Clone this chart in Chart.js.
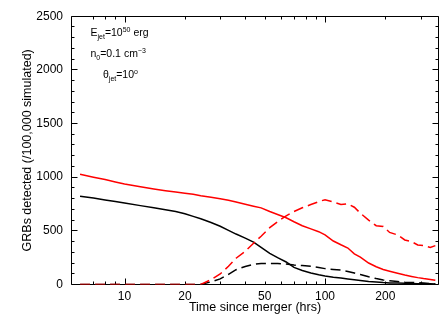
<!DOCTYPE html>
<html>
<head>
<meta charset="utf-8">
<script src="https://cdn.jsdelivr.net/npm/chart.js@4.4.1/dist/chart.umd.min.js"></script>
<style>
  body { margin: 0; background: #fff; }
  #wrap { width: 442px; height: 315px; }
</style>
</head>
<body>
<div id="wrap"><canvas id="chart" width="442" height="315"></canvas></div>
<script>
// hours since merger (shared x for all four curves)
const hours = [6, 7, 8, 9, 10, 12, 14, 16, 18, 20, 22, 24, 27, 30, 33, 36, 40, 44, 48, 53,
    58, 64, 70, 77, 85, 93, 100, 110, 120, 130, 140, 150, 165, 180, 195, 210, 230, 250,
    270, 290, 310, 335, 355];

const redSolid = [1028, 1000, 978, 956, 937, 910, 890, 874, 862, 850, 840, 828, 814, 800,
    785, 768, 748, 730, 714, 680, 652, 622, 585, 548, 518, 492, 462, 405, 370, 340, 285,
    255, 200, 165, 140, 124, 105, 88, 75, 64, 55, 47, 40];

const redDashed = [0, 0, 0, 0, 0, 0, 0, 0, 0, 0, 0, 0, 45, 98, 170, 245, 310, 385, 450, 530,
    585, 640, 680, 715, 745, 772, 790, 770, 745, 752, 720, 665, 600, 548, 540, 485, 462,
    415, 400, 368, 362, 345, 362];

const blackSolid = [822, 805, 788, 773, 760, 735, 715, 697, 680, 660, 635, 612, 578, 543,
    505, 470, 432, 395, 345, 290, 250, 210, 160, 130, 108, 90, 79, 68, 60, 52, 45, 38, 28,
    23, 18, 15, 13, 11, 10, 8, 7, 6, 5];

const blackDashed = [0, 0, 0, 0, 0, 0, 0, 0, 0, 0, 0, 0, 25, 52, 95, 138, 168, 188, 195, 196,
    196, 190, 181, 177, 170, 158, 148, 140, 134, 122, 107, 93, 72, 55, 42, 35, 28, 22, 19,
    17, 14, 8, 5];

const xTickLabels = [10, 20, 50, 100, 200];
const xMinorTicks = [7, 8, 9, 10, 20, 30, 40, 50, 60, 70, 80, 90, 100, 200, 300];
const xMajorTicks = [10, 100];
const yMax = 2500;

const toPoints = vals => hours.map((h, i) => ({ x: h, y: vals[i] }));

const FONT = "'Liberation Sans', Arial, sans-serif";
Chart.defaults.font.family = FONT;
Chart.defaults.color = '#000';

// box with inward ticks on all four sides, drawn under the curves
const frame = {
    id: 'frame',
    beforeDatasetsDraw(chart) {
        const { ctx, chartArea: a, scales: { x, y } } = chart;
        const L = Math.round(a.left) - 0.5, R = Math.round(a.right) + 0.5;
        const T = Math.floor(a.top) + 0.5, B = Math.floor(a.bottom) + 0.5;
        ctx.save();
        ctx.strokeStyle = '#000';
        ctx.lineWidth = 1;
        ctx.setLineDash([]);
        ctx.beginPath();
        ctx.rect(L, T, R - L, B - T);
        for (let v = 0; v <= yMax; v += 100) {
            const py = Math.floor(y.getPixelForValue(v)) + 0.5;
            const len = v % 500 === 0 ? 6 : 3;
            ctx.moveTo(L, py); ctx.lineTo(L + len, py);
            ctx.moveTo(R, py); ctx.lineTo(R - len, py);
        }
        xMinorTicks.forEach(v => {
            const px = Math.round(x.getPixelForValue(v)) + 0.5;
            const len = xMajorTicks.includes(v) ? 6 : 3;
            ctx.moveTo(px, B); ctx.lineTo(px, B - len);
            ctx.moveTo(px, T); ctx.lineTo(px, T + len);
        });
        ctx.stroke();
        ctx.restore();
    },
    afterDraw(chart) {
        const ctx = chart.ctx;
        const rich = (x, y, parts) => {
            parts.forEach(([txt, kind]) => {
                const small = kind !== 'n';
                ctx.font = (small ? '7px ' : '10.5px ') + FONT;
                const dy = kind === 'sub' ? 3 : kind === 'sup' ? -4 : 0;
                ctx.fillText(txt, x, y + dy);
                x += ctx.measureText(txt).width;
            });
        };
        ctx.save();
        ctx.fillStyle = '#000';
        ctx.textBaseline = 'alphabetic';
        rich(90.5, 36, [['E', 'n'], ['jet', 'sub'], ['=10', 'n'], ['50', 'sup'], [' erg', 'n']]);
        rich(90.5, 57, [['n', 'n'], ['0', 'sub'], ['=0.1 cm', 'n'], ['\u22123', 'sup']]);
        rich(103, 77.5, [['\u03b8', 'n'], ['jet', 'sub'], ['=10', 'n'], ['o', 'sup']]);
        ctx.restore();
    }
};

const line = (vals, color, dashed, order) => ({
    data: toPoints(vals),
    borderColor: color,
    borderWidth: 1.5,
    borderDash: dashed ? [10, 5] : [],
    pointRadius: 0,
    fill: false,
    tension: 0,
    order: order
});

new Chart(document.getElementById('chart'), {
    type: 'line',
    data: {
        datasets: [
            line(redDashed, '#ff0000', true, 0),
            line(redSolid, '#ff0000', false, 1),
            line(blackDashed, '#000000', true, 2),
            line(blackSolid, '#000000', false, 3)
        ]
    },
    options: {
        responsive: false,
        animation: false,
        layout: { padding: { left: 0, right: 4, top: 11, bottom: 0 } },
        plugins: { legend: { display: false }, tooltip: { enabled: false } },
        scales: {
            x: {
                type: 'logarithmic',
                min: 5.47,
                max: 366,
                grid: { display: false, drawTicks: false },
                border: { display: false },
                afterBuildTicks: s => { s.ticks = xTickLabels.map(v => ({ value: v })); },
                afterFit: s => { s.height = 30.5; },
                ticks: {
                    autoSkip: false,
                    maxRotation: 0,
                    padding: 4.5,
                    font: { size: 12 },
                    callback: v => String(v)
                },
                title: {
                    display: true,
                    text: 'Time since merger (hrs)',
                    font: { size: 12.5 },
                    padding: { top: 0, bottom: 0 }
                }
            },
            y: {
                min: 0,
                max: yMax,
                grid: { display: false, drawTicks: false },
                border: { display: false },
                afterFit: s => { s.width = 72; },
                ticks: { stepSize: 500, padding: 9, font: { size: 12 }, callback: v => String(v) },
                title: {
                    display: true,
                    text: 'GRBs detected (/100,000 simulated)',
                    font: { size: 12.5 },
                    padding: { top: 20, bottom: 0 }
                }
            }
        }
    },
    plugins: [frame]
});
</script>
</body>
</html>
